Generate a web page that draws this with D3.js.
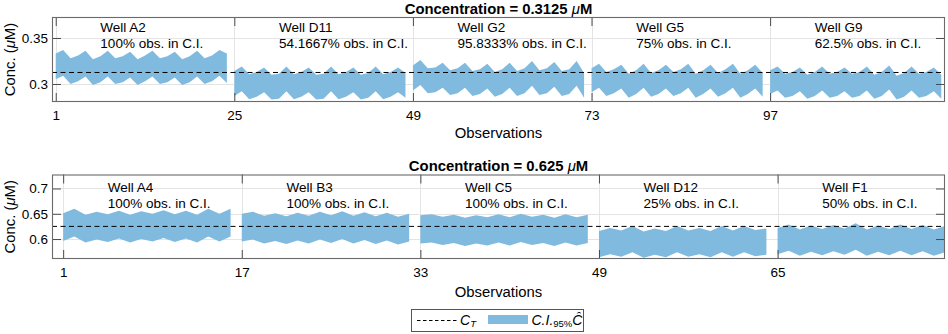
<!DOCTYPE html>
<html><head><meta charset="utf-8">
<script src="https://cdn.jsdelivr.net/npm/d3@7"></script>
<style>
body{margin:0;background:#fff}
svg{display:block}
text{font-family:"Liberation Sans",Arial,Helvetica,sans-serif;fill:#000}
</style>
</head><body>
<svg id="chart" width="948" height="334"></svg>
<script>
// ---------------- DATA ----------------
const topTargetLabel = "0.3125";
const topTarget = 0.3125;
const topWells = ["A2", "D11", "G2", "G5", "G9"];
const topCoverage = ["100%", "54.1667%", "95.8333%", "75%", "62.5%"];
const topXTicks = [1, 25, 49, 73, 97];
const topYTicks = [0.3, 0.35];
const topYTickLabels = ["0.3", "0.35"];

const upperA2 = [0.333,0.337,0.328,0.331,0.336,0.327,0.330,0.336,0.328,0.330,0.335,0.327,0.331,0.336,0.328,0.330,0.335,0.327,0.330,0.336,0.328,0.331,0.337,0.333];
const lowerA2 = [0.305,0.309,0.300,0.303,0.308,0.299,0.302,0.308,0.300,0.302,0.307,0.299,0.303,0.308,0.300,0.302,0.307,0.299,0.302,0.308,0.300,0.303,0.309,0.301];
const upperD11 = [0.314,0.319,0.3105,0.313,0.318,0.310,0.311,0.319,0.3105,0.313,0.318,0.310,0.311,0.319,0.3105,0.313,0.318,0.310,0.312,0.319,0.3105,0.313,0.318,0.312];
const lowerD11 = [0.287,0.292,0.2835,0.286,0.291,0.283,0.284,0.292,0.2835,0.286,0.291,0.283,0.284,0.292,0.2835,0.286,0.291,0.283,0.285,0.292,0.2835,0.286,0.291,0.285];
const upperG2 = [0.320,0.326,0.317,0.318,0.323,0.315,0.317,0.323,0.314,0.316,0.322,0.313,0.316,0.323,0.314,0.317,0.325,0.315,0.317,0.324,0.314,0.316,0.325,0.312];
const lowerG2 = [0.293,0.299,0.290,0.291,0.296,0.288,0.290,0.296,0.287,0.289,0.295,0.286,0.289,0.296,0.287,0.290,0.298,0.288,0.290,0.297,0.287,0.289,0.298,0.285];
const upperG5 = [0.317,0.322,0.313,0.316,0.321,0.311,0.315,0.322,0.312,0.315,0.321,0.313,0.316,0.322,0.311,0.315,0.321,0.312,0.316,0.322,0.311,0.315,0.321,0.312];
const lowerG5 = [0.291,0.296,0.287,0.290,0.295,0.285,0.289,0.296,0.286,0.289,0.295,0.287,0.290,0.296,0.285,0.289,0.295,0.286,0.290,0.296,0.285,0.289,0.295,0.286];
const upperG9 = [0.315,0.319,0.311,0.313,0.318,0.310,0.313,0.319,0.311,0.313,0.318,0.311,0.313,0.319,0.310,0.313,0.320,0.309,0.312,0.319,0.311,0.313,0.318,0.310];
const lowerG9 = [0.289,0.293,0.285,0.287,0.292,0.284,0.287,0.293,0.285,0.287,0.292,0.285,0.287,0.293,0.284,0.287,0.294,0.283,0.286,0.293,0.285,0.287,0.292,0.284];

const bottomTargetLabel = "0.625";
const bottomTarget = 0.625;
const bottomWells = ["A4", "B3", "C5", "D12", "F1"];
const bottomCoverage = ["100%", "100%", "100%", "25%", "50%"];
const bottomXTicks = [1, 17, 33, 49, 65];
const bottomYTicks = [0.6, 0.65, 0.7];
const bottomYTickLabels = ["0.6", "0.65", "0.7"];

const upperA4 = [0.651,0.660,0.648,0.654,0.649,0.656,0.648,0.655,0.650,0.657,0.649,0.656,0.648,0.660,0.650,0.660];
const lowerA4 = [0.596,0.605,0.593,0.599,0.594,0.601,0.593,0.600,0.595,0.602,0.594,0.601,0.593,0.605,0.595,0.605];
const upperB3 = [0.650,0.654,0.646,0.651,0.645,0.652,0.646,0.654,0.647,0.655,0.646,0.653,0.645,0.652,0.644,0.650];
const lowerB3 = [0.595,0.599,0.591,0.596,0.590,0.597,0.591,0.599,0.592,0.600,0.591,0.598,0.590,0.597,0.589,0.595];
const upperC5 = [0.647,0.649,0.644,0.648,0.642,0.647,0.643,0.649,0.643,0.650,0.644,0.648,0.642,0.649,0.643,0.648];
const lowerC5 = [0.591,0.593,0.588,0.592,0.586,0.591,0.587,0.593,0.587,0.594,0.588,0.592,0.586,0.593,0.587,0.592];
const upperD12 = [0.616,0.622,0.617,0.626,0.615,0.621,0.616,0.626,0.617,0.622,0.616,0.626,0.617,0.626,0.618,0.621];
const lowerD12 = [0.564,0.570,0.565,0.574,0.563,0.569,0.564,0.574,0.565,0.570,0.564,0.574,0.565,0.574,0.566,0.569];
const upperF1 = [0.622,0.629,0.619,0.627,0.620,0.628,0.621,0.631,0.619,0.627,0.620,0.629,0.620,0.628,0.619,0.626];
const lowerF1 = [0.570,0.577,0.567,0.575,0.568,0.576,0.569,0.579,0.567,0.575,0.568,0.577,0.568,0.576,0.567,0.574];

// ---------------- LAYOUT ----------------
const svg = d3.select("#chart");
const L = 52, R = 945;
const bandColor = "#80bbdf";
const axisColor = "#4a4a4a";
const gridColor = "#e4e4e4";

const panels = [
  { targetLabel: topTargetLabel, target: topTarget, wells: topWells, coverage: topCoverage,
    upper: [upperA2, upperD11, upperG2, upperG5, upperG9],
    lower: [lowerA2, lowerD11, lowerG2, lowerG5, lowerG9],
    xTicks: topXTicks, yTicks: topYTicks, yTickLabels: topYTickLabels,
    xDomain: [0.5, 120.5], yDomain: [0.2804, 0.3728], top: 17, bottom: 102,
    lab1: 15, lab2: 31, xlabBase: 138 },
  { targetLabel: bottomTargetLabel, target: bottomTarget, wells: bottomWells, coverage: bottomCoverage,
    upper: [upperA4, upperB3, upperC5, upperD12, upperF1],
    lower: [lowerA4, lowerB3, lowerC5, lowerD12, lowerF1],
    xTicks: bottomXTicks, yTicks: bottomYTicks, yTickLabels: bottomYTickLabels,
    xDomain: [0, 80], yDomain: [0.5605, 0.7277], top: 174.5, bottom: 259,
    lab1: 17.4, lab2: 33.4, xlabBase: 297 }
];

panels.forEach(p => {
  const x = d3.scaleLinear().domain(p.xDomain).range([L, R]);
  const y = d3.scaleLinear().domain(p.yDomain).range([p.bottom, p.top]);
  const g = svg.append("g");
  const n = p.upper[0].length;

  // grid
  g.selectAll(".vg").data(p.xTicks).join("line")
    .attr("x1", d => Math.round(x(d)) + 0.5).attr("x2", d => Math.round(x(d)) + 0.5)
    .attr("y1", p.top).attr("y2", p.bottom).attr("stroke", gridColor);
  g.selectAll(".hg").data(p.yTicks).join("line")
    .attr("y1", d => Math.round(y(d)) + 0.5).attr("y2", d => Math.round(y(d)) + 0.5)
    .attr("x1", L).attr("x2", R).attr("stroke", gridColor);

  // confidence-interval bands, one per well
  const area = d3.area().x(d => x(d.obs)).y0(d => y(d.lo)).y1(d => y(d.hi)).curve(d3.curveLinear);
  p.upper.forEach((up, w) => {
    const pts = up.map((v, i) => ({ obs: w * n + i + 1, hi: v, lo: p.lower[w][i] }));
    g.append("path").attr("d", area(pts)).attr("fill", bandColor).attr("stroke", "none");
  });

  // target concentration (dashed)
  g.append("line").attr("x1", x(p.xDomain[0])).attr("x2", x(p.xDomain[1]))
    .attr("y1", y(p.target)).attr("y2", y(p.target))
    .attr("stroke", "#000").attr("stroke-width", 1).attr("stroke-dasharray", "5,3.5");

  // well labels
  p.wells.forEach((wName, w) => {
    const tx = x(w * n + 1 + n / 4);
    g.append("text").attr("x", tx).attr("y", p.top + p.lab1).attr("font-size", "13.5px").text("Well " + wName);
    g.append("text").attr("x", tx).attr("y", p.top + p.lab2).attr("font-size", "13.5px").text(p.coverage[w] + " obs. in C.I.");
  });

  // axes with inward ticks on all four sides
  const ax = g.append("g").attr("transform", `translate(0,${p.bottom})`)
    .call(d3.axisBottom(x).tickValues(p.xTicks).tickSize(-9).tickPadding(8.5).tickFormat(d3.format("d")));
  const axT = g.append("g").attr("transform", `translate(0,${p.top})`)
    .call(d3.axisTop(x).tickValues(p.xTicks).tickSize(-9).tickFormat(""));
  const ayL = g.append("g").attr("transform", `translate(${L},0)`)
    .call(d3.axisLeft(y).tickValues(p.yTicks).tickSize(-9).tickPadding(4).tickFormat((d, i) => p.yTickLabels[i]));
  const ayR = g.append("g").attr("transform", `translate(${R},0)`)
    .call(d3.axisRight(y).tickValues(p.yTicks).tickSize(-9).tickFormat(""));
  [ax, axT, ayL, ayR].forEach(a => {
    a.select(".domain").remove();
    a.selectAll("line").attr("stroke", axisColor);
    a.selectAll("text").attr("font-family", '"Liberation Sans",Arial,sans-serif').attr("font-size", "13.5px").attr("fill", "#000");
  });

  // box
  g.append("rect").attr("x", L + 0.5).attr("y", p.top + 0.5).attr("width", R - L - 1).attr("height", p.bottom - p.top - 1)
    .attr("fill", "none").attr("stroke", "#6a6a6a").attr("stroke-width", 1.1);

  // title
  const t = g.append("text").attr("x", (L + R) / 2).attr("y", p.top - 3.5).attr("text-anchor", "middle")
    .attr("font-size", "14.85px").attr("font-weight", "bold");
  t.append("tspan").text("Concentration = " + p.targetLabel + " ");
  t.append("tspan").attr("font-style", "italic").attr("font-weight", "normal").text("μ");
  t.append("tspan").text("M");

  // y label
  const yl = g.append("text").attr("transform", `translate(14.5,${(p.top + p.bottom) / 2}) rotate(-90)`)
    .attr("text-anchor", "middle").attr("font-size", "14.85px");
  yl.append("tspan").text("Conc. (");
  yl.append("tspan").attr("font-style", "italic").text("μ");
  yl.append("tspan").text("M)");

  // x label
  g.append("text").attr("x", (L + R) / 2).attr("y", p.xlabBase).attr("text-anchor", "middle")
    .attr("font-size", "14.85px").text("Observations");
});

// ---------------- LEGEND ----------------
const lg = svg.append("g");
lg.append("rect").attr("x", 411.5).attr("y", 309.5).attr("width", 172).attr("height", 22)
  .attr("fill", "#fff").attr("stroke", "#555").attr("stroke-width", 1);
lg.append("line").attr("x1", 417).attr("x2", 458).attr("y1", 320.5).attr("y2", 320.5)
  .attr("stroke", "#000").attr("stroke-dasharray", "3.5,2.5");
const lt1 = lg.append("text").attr("x", 460).attr("y", 324.5)
  .attr("font-family", '"Liberation Serif","DejaVu Serif",serif').attr("font-style", "italic").attr("font-size", "14px");
lt1.append("tspan").text("C");
lt1.append("tspan").attr("font-size", "9.5px").attr("dy", 2.5).text("T");
lg.append("rect").attr("x", 488).attr("y", 315).attr("width", 40).attr("height", 9).attr("fill", bandColor);
const lt2 = lg.append("text").attr("x", 531.5).attr("y", 324.5)
  .attr("font-family", '"Liberation Serif","DejaVu Serif",serif').attr("font-style", "italic").attr("font-size", "14px");
lt2.append("tspan").text("C.I.");
lt2.append("tspan").attr("font-size", "9.5px").attr("dy", 2.5).attr("font-style", "normal").text("95%");
lt2.append("tspan").attr("dy", -2.5).text("Ĉ");
</script>
</body></html>
